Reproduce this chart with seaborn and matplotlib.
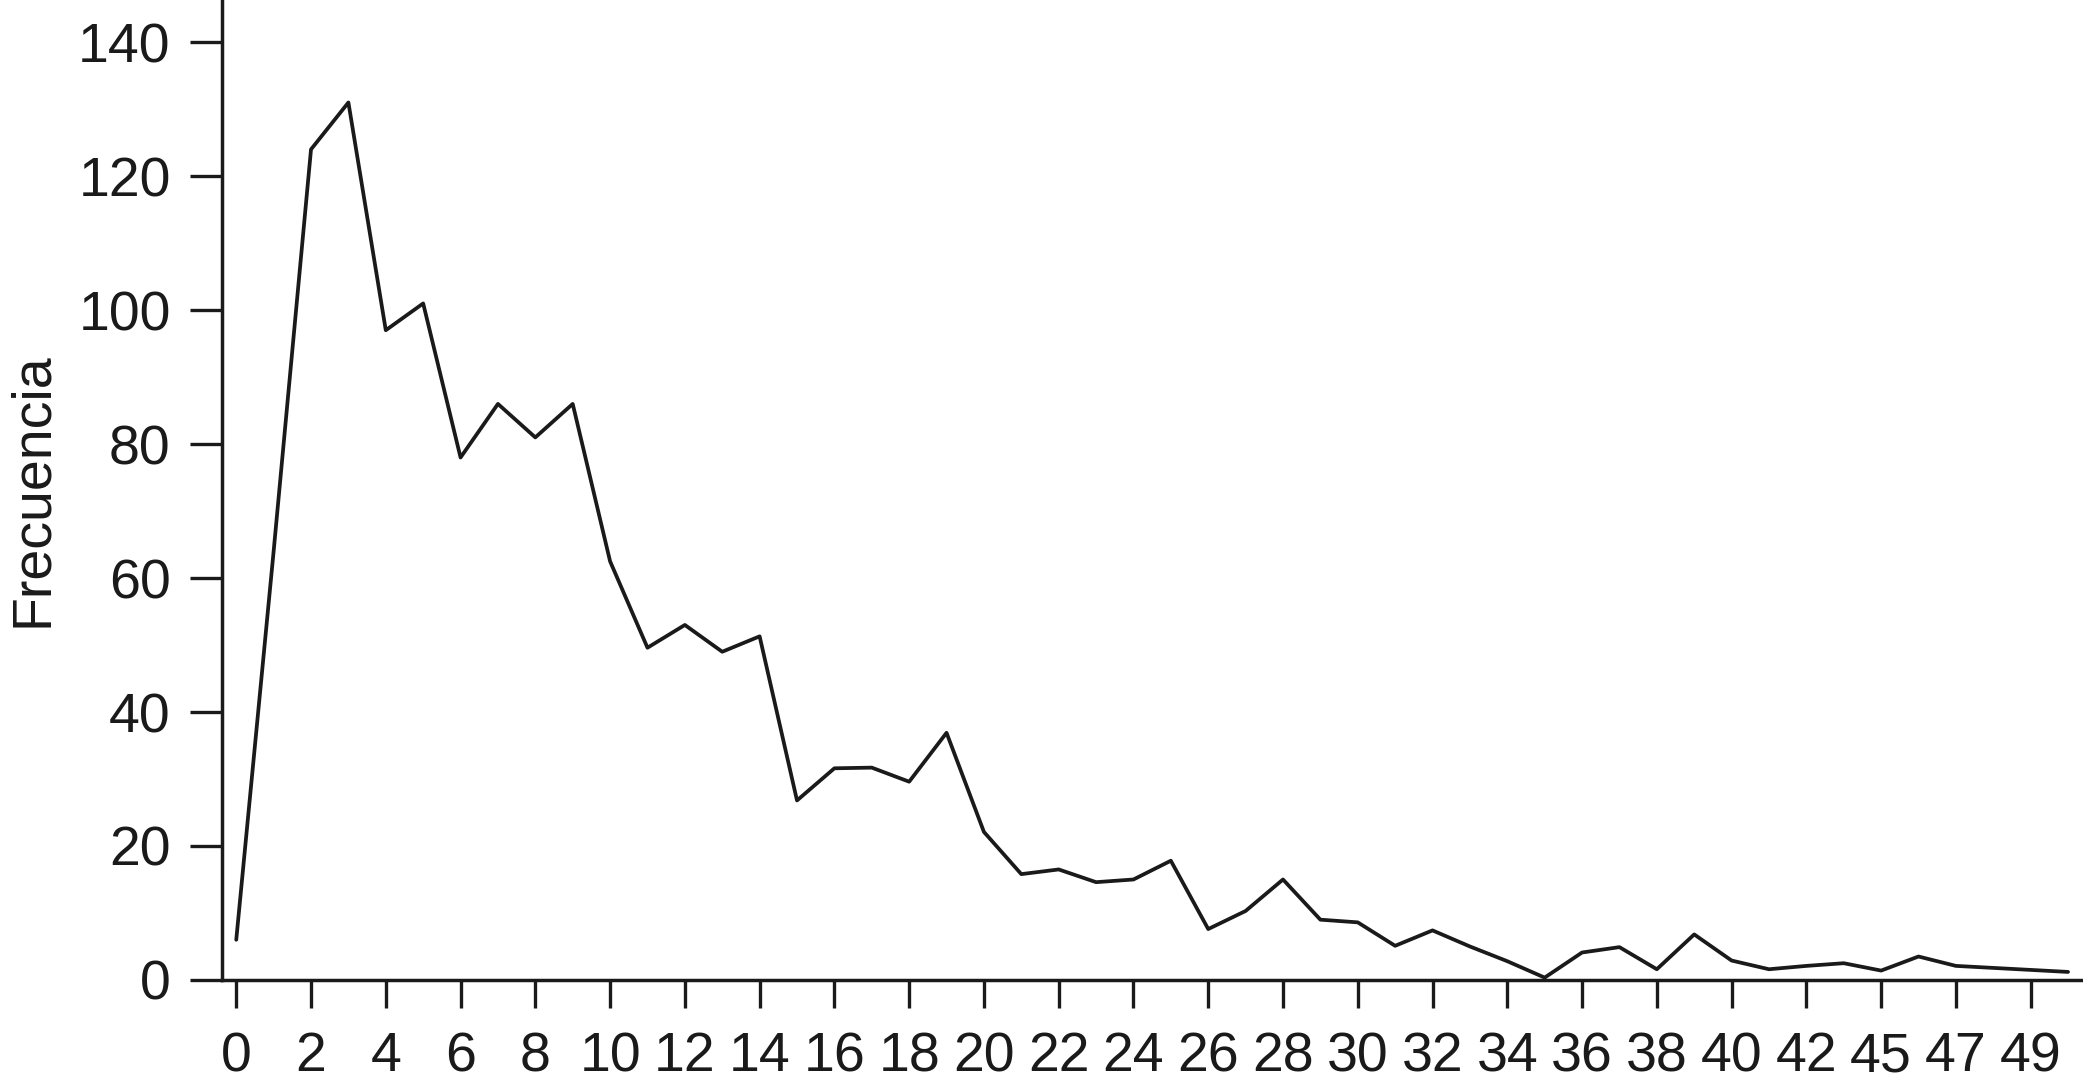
import matplotlib
matplotlib.use("Agg")
import matplotlib.pyplot as plt
import seaborn as sns
import numpy as np
import pandas as pd

# Datos
categorias = list(range(0, 44)) + [45, 46, 47, 48, 49, 50]
frecuencia = [6, 64, 124, 131, 97, 101, 78, 86, 81, 86,
              62.5, 49.6, 53, 49, 51.3, 26.8, 31.6, 31.7, 29.6, 36.9,
              22.1, 15.8, 16.5, 14.6, 15, 17.8, 7.6, 10.3, 15, 9,
              8.6, 5.1, 7.4, 5, 2.8, 0.35, 4.1, 4.9, 1.6, 6.8,
              2.9, 1.6, 2.1, 2.5, 1.4, 3.5, 2.1, 1.8, 1.5, 1.2]
y_ticks = [0, 20, 40, 60, 80, 100, 120, 140]

df = pd.DataFrame({"pos": np.arange(len(categorias)), "Frecuencia": frecuencia})

sns.set_style("ticks")
plt.rcParams['font.family'] = ['Liberation Sans', 'DejaVu Sans']

fig = plt.figure(figsize=(20.83, 10.88), dpi=100)
ax = fig.add_axes([0.1066, 0.0993, 0.8934, 0.9007])

sns.lineplot(data=df, x="pos", y="Frecuencia", ax=ax, color='#1a1a1a', linewidth=2.7)

ax.set_xlim(-0.38, 49.4)
ax.set_ylim(0, 146.3)

ax.set_xticks(df["pos"][::2])
ax.set_xticklabels([str(c) for c in categorias[::2]])
ax.set_yticks(y_ticks)

ax.spines['top'].set_visible(False)
ax.spines['right'].set_visible(False)
for s in ['left', 'bottom']:
    ax.spines[s].set_linewidth(2.5)
    ax.spines[s].set_color('#1a1a1a')

ax.tick_params(axis='y', length=23, width=2.4, pad=14, labelsize=40, colors='#1a1a1a')
ax.tick_params(axis='x', length=20, width=2.4, pad=17, labelsize=40, colors='#1a1a1a')

ax.set_xlabel("")
ax.set_ylabel("Frecuencia", fontsize=40, color='#1a1a1a', labelpad=14)

fig.savefig("out.png", dpi=100, facecolor='white')
plt.close()
